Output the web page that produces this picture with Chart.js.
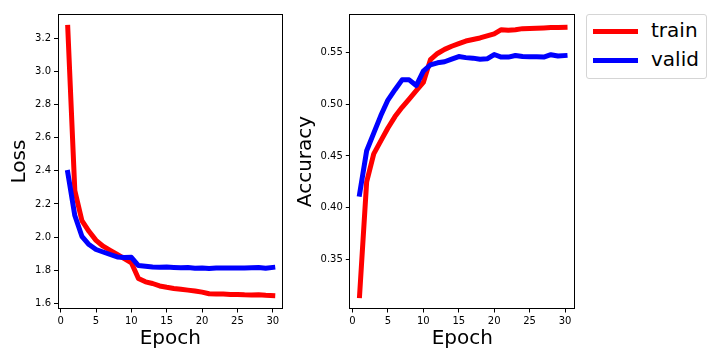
<!DOCTYPE html>
<html>
<head>
<meta charset="utf-8">
<script src="https://cdn.jsdelivr.net/npm/chart.js@4"></script>
<style>
  html, body { margin: 0; padding: 0; background: #fff; }
  #wrap { position: relative; width: 720px; height: 360px; overflow: hidden; background: #fff; }
  canvas { position: absolute; top: 0; }
  #legend { position: absolute; left: 586px; top: 14px; width: 119px; height: 63px;
            border: 1px solid #d5d5d5; border-radius: 3px; background: #fff;
            font-family: "DejaVu Sans", sans-serif; font-size: 20px; line-height: 20px; }
  .lg-line { position: absolute; left: 6px; width: 45px; height: 5px; }
  .lg-text { position: absolute; left: 64px; color: #000; white-space: nowrap; }
</style>
</head>
<body>
<div id="wrap">
  <canvas id="c1" width="290" height="360" style="left:0px"></canvas>
  <canvas id="c2" width="296" height="360" style="left:290px"></canvas>
  <div id="legend"></div>
</div>
<script>
// ---- data ----
const epochs = [1,2,3,4,5,6,7,8,9,10,11,12,13,14,15,16,17,18,19,20,21,22,23,24,25,26,27,28,29,30];
const lossTrain = [3.265, 2.28, 2.10, 2.035, 1.98, 1.945, 1.92, 1.895, 1.87, 1.845, 1.75, 1.73, 1.72, 1.705, 1.697, 1.69, 1.685, 1.68, 1.675, 1.668, 1.658, 1.657, 1.656, 1.654, 1.654, 1.652, 1.651, 1.652, 1.649, 1.647];
const lossValid = [2.39, 2.13, 2.005, 1.955, 1.925, 1.91, 1.895, 1.88, 1.877, 1.878, 1.828, 1.824, 1.82, 1.818, 1.819, 1.817, 1.815, 1.816, 1.812, 1.814, 1.810, 1.813, 1.813, 1.814, 1.814, 1.814, 1.815, 1.816, 1.812, 1.817];
const accTrain = [0.315, 0.425, 0.452, 0.4645, 0.477, 0.488, 0.497, 0.505, 0.513, 0.521, 0.543, 0.549, 0.553, 0.556, 0.5585, 0.561, 0.5625, 0.564, 0.566, 0.568, 0.572, 0.5715, 0.572, 0.573, 0.5732, 0.5735, 0.5737, 0.574, 0.574, 0.5742];
const accValid = [0.413, 0.455, 0.472, 0.489, 0.504, 0.514, 0.5235, 0.5235, 0.518, 0.532, 0.538, 0.540, 0.541, 0.5435, 0.546, 0.545, 0.5445, 0.5435, 0.5438, 0.548, 0.5455, 0.5455, 0.547, 0.546, 0.5458, 0.5458, 0.5455, 0.5478, 0.5465, 0.547];
const xTicks = [0, 5, 10, 15, 20, 25, 30];
const lossTicks = [1.6, 1.8, 2.0, 2.2, 2.4, 2.6, 2.8, 3.0, 3.2];
const accTicks = [0.35, 0.40, 0.45, 0.50, 0.55];
const seriesLabels = ['train', 'valid'];
const seriesColors = ['#ff0000', '#0000ff'];

const FONT = '"DejaVu Sans", sans-serif';

function pts(vals) { return epochs.map((e, i) => ({x: e, y: vals[i]})); }

function margins(arr, frac) {
  const mn = Math.min(...arr), mx = Math.max(...arr);
  const d = (mx - mn) * frac;
  return [mn - d, mx + d];
}

const frame = {
  id: 'frame',
  afterDraw(chart) {
    const {ctx, chartArea: a} = chart;
    ctx.save();
    ctx.strokeStyle = '#000';
    ctx.lineWidth = 1;
    const l = Math.round(a.left) + 0.5, t = Math.round(a.top) + 0.5;
    const r = Math.round(a.right) - 0.5, b = Math.round(a.bottom) - 0.5;
    ctx.strokeRect(l, t, r - l, b - t);
    ctx.restore();
  }
};

function makeChart(id, train, valid, yTicks, yTitle, yDigits, yWidth, titlePad, padRight) {
  const [xmin, xmax] = margins(epochs, 0.05);
  const [ymin, ymax] = margins(train.concat(valid), 0.05);
  return new Chart(document.getElementById(id), {
    type: 'line',
    data: {
      datasets: [
        {label: seriesLabels[0], data: pts(train), borderColor: seriesColors[0], order: 1},
        {label: seriesLabels[1], data: pts(valid), borderColor: seriesColors[1], order: 0}
      ].map(d => Object.assign(d, {
        borderWidth: 5, pointRadius: 0, tension: 0, fill: false,
        borderJoinStyle: 'round', borderCapStyle: 'square'
      }))
    },
    options: {
      responsive: false,
      animation: false,
      devicePixelRatio: 1,
      layout: {padding: {top: 14, right: padRight, left: 0, bottom: 0}},
      plugins: {legend: {display: false}, tooltip: {enabled: false}},
      scales: {
        x: {
          type: 'linear', min: xmin, max: xmax,
          afterBuildTicks: s => { s.ticks = xTicks.map(v => ({value: v})); },
          afterFit: s => { s.height = 51; },
          grid: {display: true, drawOnChartArea: false, drawTicks: true, tickLength: 3.5, tickColor: '#000', tickWidth: 1},
          border: {display: false},
          ticks: {font: {family: FONT, size: 10}, color: '#000', padding: 3, maxRotation: 0,
                  callback: v => String(v)},
          title: {display: true, text: 'Epoch', font: {family: FONT, size: 20}, color: '#000', padding: {top: 0, bottom: 9}}
        },
        y: {
          type: 'linear', min: ymin, max: ymax,
          afterBuildTicks: s => { s.ticks = yTicks.map(v => ({value: v})); },
          afterFit: s => { s.width = yWidth; },
          grid: {display: true, drawOnChartArea: false, drawTicks: true, tickLength: 3.5, tickColor: '#000', tickWidth: 1},
          border: {display: false},
          ticks: {font: {family: FONT, size: 10}, color: '#000', padding: 3,
                  callback: v => Number(v).toFixed(yDigits)},
          title: {display: true, text: yTitle, font: {family: FONT, size: 20}, color: '#000', padding: {top: titlePad, bottom: 0}}
        }
      }
    },
    plugins: [frame]
  });
}

makeChart('c1', lossTrain, lossValid, lossTicks, 'Loss', 1, 57.5, 8, 7);
makeChart('c2', accTrain, accValid, accTicks, 'Accuracy', 2, 59.3, 4, 10.7);

// legend
const lg = document.getElementById('legend');
seriesLabels.forEach((lab, i) => {
  const line = document.createElement('div');
  line.className = 'lg-line';
  line.style.background = seriesColors[i];
  line.style.top = (13.5 + i * 29) + 'px';
  lg.appendChild(line);
  const t = document.createElement('div');
  t.className = 'lg-text';
  t.style.top = (5 + i * 29) + 'px';
  t.textContent = lab;
  lg.appendChild(t);
});
</script>
</body>
</html>
